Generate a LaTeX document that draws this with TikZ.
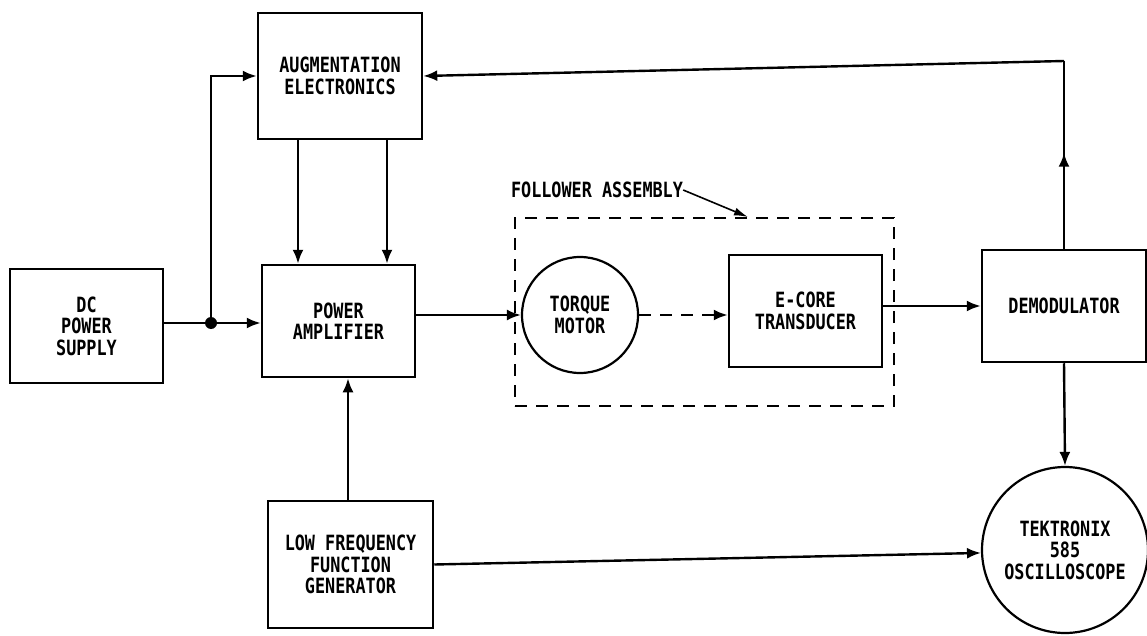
\documentclass[tikz,border=0pt]{standalone}
\usepackage{fontspec}
\setmainfont{DejaVu Sans Mono}[FakeStretch=0.8]
\usetikzlibrary{arrows.meta}
\newcommand\diaglab{\fontsize{21}{21.5}\selectfont\bfseries}
\begin{document}
\begin{tikzpicture}[x=1pt,y=-1pt,
  blk/.style={draw,line width=2.5pt,align=center,inner sep=0pt,font=\diaglab},
  circ/.style={circle,draw,line width=2.2pt,align=center,inner sep=0pt,font=\diaglab},
  ln/.style={line width=2.4pt},
  arr/.style={line width=2.4pt,-{Latex[length=14pt,width=11pt]}},
  thinarr/.style={line width=1.6pt,-{Latex[length=14pt,width=8pt]}},
  fadash/.style={draw,line width=1.8pt,dash pattern=on 12pt off 9pt}]
\useasboundingbox (0,0) rectangle (1147,636);
% blocks
\node[blk,minimum width=153pt,minimum height=114pt] (dc) at (86.5,326) {DC\\POWER\\SUPPLY};
\node[blk,minimum width=164pt,minimum height=126pt] (aug) at (340,76) {AUGMENTATION\\ELECTRONICS};
\node[blk,minimum width=153pt,minimum height=112pt] (pa) at (338.5,321) {POWER\\AMPLIFIER};
\node[blk,minimum width=165pt,minimum height=127pt] (fg) at (350.5,564.5) {LOW FREQUENCY\\FUNCTION\\GENERATOR};
\node[circ,minimum size=116pt] (tm) at (580,315) {TORQUE\\MOTOR};
\node[blk,minimum width=153pt,minimum height=112pt] (ec) at (805.5,311) {E-CORE\\TRANSDUCER};
\node[blk,minimum width=164pt,minimum height=112pt] (dm) at (1064,306) {DEMODULATOR};
\node[circ,minimum size=166pt] (sc) at (1065,550) {TEKTRONIX\\585\\OSCILLOSCOPE};
% follower assembly
\node[fadash,minimum width=379pt,minimum height=188pt] (fa) at (704.5,312) {};
\node[font=\diaglab,inner sep=0pt] (fl) at (597,190) {FOLLOWER ASSEMBLY};
\coordinate (fatip) at (748,217);
\draw[thinarr] (fl.east) -- (fatip);
% junction
\node[circle,fill,minimum size=12pt,inner sep=0pt] (j) at (211,323) {};
% connectors
\draw[ln] (dc.east |- j) -- (j);
\draw[arr] (j) -- (pa.west |- j);
\draw[arr] (j) |- (aug.west);
\coordinate (a1) at ([xshift=-42pt]aug.south);
\coordinate (a2) at ([xshift=47pt]aug.south);
\draw[arr] (a1) -- (a1 |- pa.north);
\draw[arr] (a2) -- (a2 |- pa.north);
\coordinate (f1) at ([xshift=-2.5pt]fg.north);
\draw[arr] (f1) -- (f1 |- pa.south);
\draw[arr] (pa.east |- tm.west) -- (tm.west);
\draw[arr,dash pattern=on 12pt off 9pt] (tm.east) -- (ec.west |- tm.east);
\draw[arr] (ec.east |- dm.west) -- (dm.west);
\coordinate (c1) at (1064,61);
\draw[ln] (dm.north) -- (c1);
\draw[arr] (c1) -- (aug.east);
\draw[arr] (dm.north) -- ++(0,-96);
\draw[arr] (dm.south) -- (sc.north);
\draw[arr] (fg.east) -- (sc.182);
\end{tikzpicture}
\end{document}
